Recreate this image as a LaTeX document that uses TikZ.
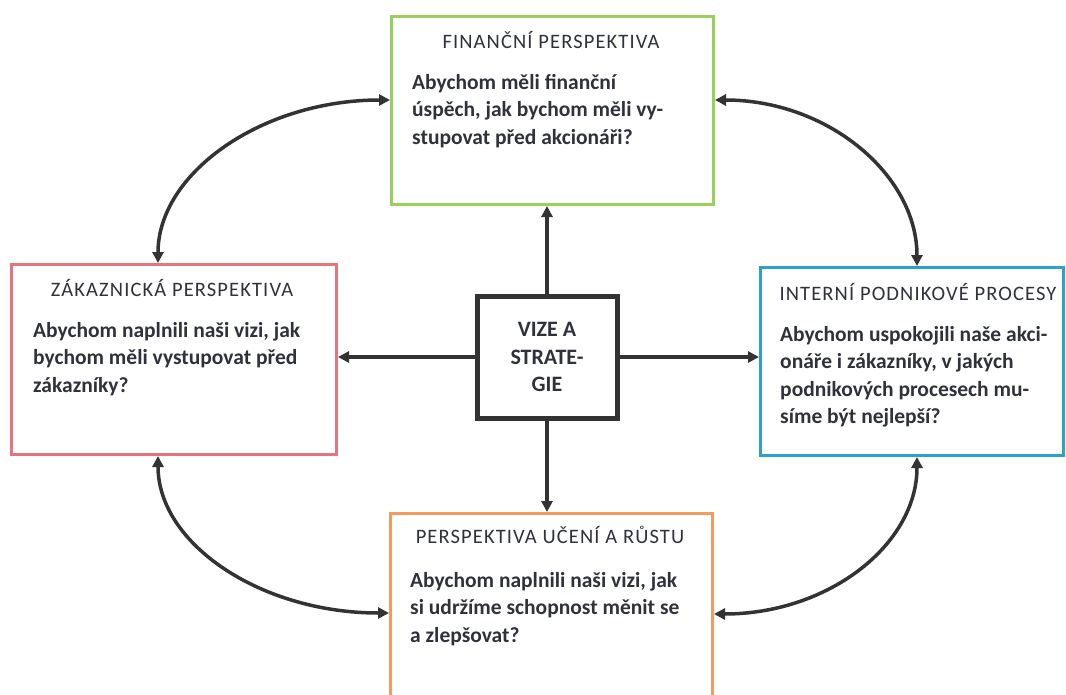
\documentclass[tikz,border=0pt]{standalone}
\usepackage{fontspec}
\setmainfont{Carlito}
\newfontfamily\headfont[LetterSpace=5.5]{Carlito}
\usetikzlibrary{arrows.meta,calc}
\definecolor{fgreen}{HTML}{9BCF5C}
\definecolor{fpink}{HTML}{E5747E}
\definecolor{fblue}{HTML}{2AA2CE}
\definecolor{forange}{HTML}{F59A5C}
\definecolor{ink}{HTML}{2F323A}
\definecolor{arr}{HTML}{333333}
\tikzset{
  card/.style={draw, line width=3pt, anchor=north west, inner sep=0pt, fill=white},
  hub/.style={draw=arr, line width=5pt, minimum width=140pt, minimum height=122pt, inner sep=0pt, align=center, font=\fontsize{22}{27.5}\selectfont\bfseries, text=ink},
  heading/.style={anchor=base, inner sep=0pt, font=\headfont\fontsize{20.5}{24}\selectfont, text=ink},
  bodytext/.style={anchor=base west, inner sep=0pt, font=\fontsize{21.5}{27.5}\selectfont\bfseries, text=ink},
  link/.style={draw=arr, line width=3.5pt, -{Triangle[length=11pt,width=11pt]}},
  twoway/.style={draw=arr, line width=3.5pt, {Triangle[length=11pt,width=11pt]}-{Triangle[length=11pt,width=11pt]}}
}
\newcommand{\bodylines}[2]{\parbox[t]{#1}{\raggedright #2}}
\begin{document}
\begin{tikzpicture}[x=1pt,y=-1pt]
\clip (0,0) rectangle (1066,694);
\fill[white] (0,0) rectangle (1066,694);
% boxes
\node[card, draw=fgreen, minimum width=322pt, minimum height=188pt] (fin) at (390,15) {};
\node[card, draw=fpink, minimum width=325pt, minimum height=190pt] (cus) at (10,263) {};
\node[card, draw=fblue, minimum width=303pt, minimum height=188pt] (int) at (759,266) {};
\node[card, draw=forange, minimum width=322pt, minimum height=210pt] (lrn) at (389,512) {};
\node[hub] (ctr) at (547,357) {VIZE A\\STRATE-\\GIE};
% headings
\node[heading] (finH) at (551,48) {FINANČNÍ PERSPEKTIVA};
\node[heading] (cusH) at (172,296) {ZÁKAZNICKÁ PERSPEKTIVA};
\node[heading] (intH) at (918,300) {INTERNÍ PODNIKOVÉ PROCESY};
\node[heading] (lrnH) at (550,543) {PERSPEKTIVA UČENÍ A RŮSTU};
% bodies
\node[bodytext] (finB) at (412,89) {\bodylines{300pt}{Abychom měli finanční\\úspěch, jak bychom měli vy-\\stupovat před akcionáři?}};
\node[bodytext] (cusB) at (33,337) {\bodylines{300pt}{Abychom naplnili naši vizi, jak\\bychom měli vystupovat před\\zákazníky?}};
\node[bodytext] (intB) at (780,341) {\bodylines{300pt}{Abychom uspokojili naše akci-\\onáře i zákazníky, v jakých\\podnikových procesech mu-\\síme být nejlepší?}};
\node[bodytext] (lrnB) at (410,587) {\bodylines{300pt}{Abychom naplnili naši vizi, jak\\si udržíme schopnost měnit se\\a zlepšovat?}};
% straight connectors
\draw[link] (ctr.north) -- (ctr.north |- fin.south);
\draw[link] (ctr.south) -- (ctr.south |- lrn.north);
\draw[link] (ctr.west) -- (ctr.west -| cus.east);
\draw[link] (ctr.east) -- (ctr.east -| int.west);
% curved connectors
\draw[twoway] ($(cus.north west)+(148,0)$) .. controls ($(cus.north west)+(148,-90)$) and ($(fin.north west)+(-128,85)$) .. ($(fin.north west)+(0,85)$);
\draw[twoway] ($(fin.north east)+(0,85)$) .. controls ($(fin.north east)+(113,85)$) and ($(int.north west)+(158,-91)$) .. ($(int.north west)+(158,0)$);
\draw[twoway] ($(cus.south west)+(148,0)$) .. controls ($(cus.south west)+(148,88)$) and ($(lrn.north west)+(-128,101)$) .. ($(lrn.north west)+(0,101)$);
\draw[twoway] ($(int.south west)+(158,0)$) .. controls ($(int.south west)+(158,88)$) and ($(lrn.north east)+(114,102)$) .. ($(lrn.north east)+(0,102)$);
\end{tikzpicture}
\end{document}
